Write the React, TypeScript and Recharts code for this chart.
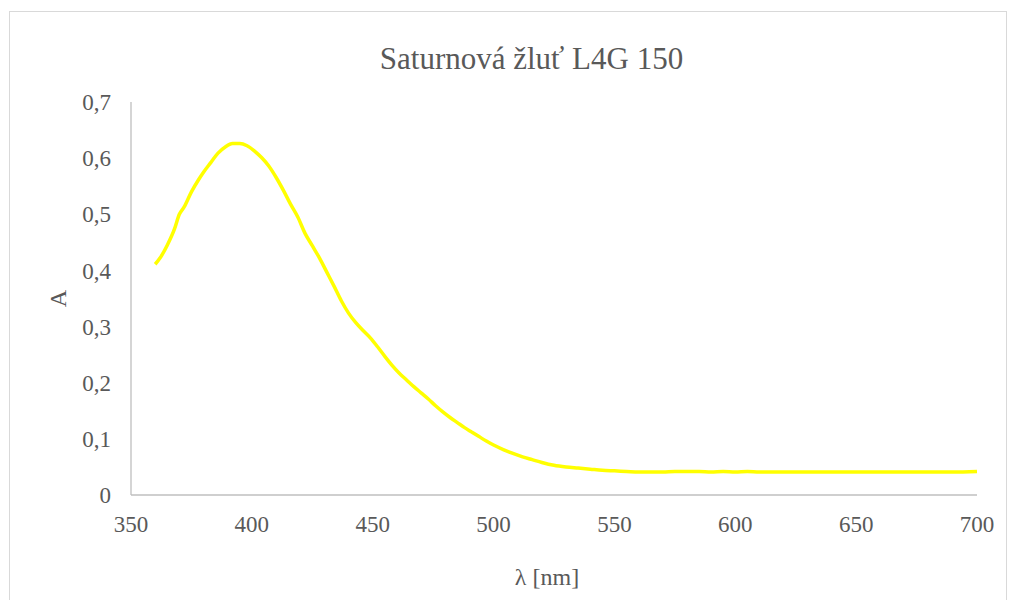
import React from "react";
import { LineChart, Line, XAxis, YAxis } from "recharts";

// wavelength [nm] and absorbance
const wavelengths = [
  360, 362, 365, 368, 370, 372, 375, 378, 380, 383, 386, 389, 392, 395, 398,
  401, 404, 407, 410, 413, 416, 419, 422, 425, 428, 431, 434, 437, 440, 443,
  446, 449, 452, 455, 458, 461, 464, 467, 470, 473, 476, 479, 482, 485, 488,
  491, 494, 497, 500, 504, 508, 512, 516, 520, 525, 530, 535, 540, 545, 550,
  555, 560, 565, 570, 575, 580, 585, 590, 595, 600, 605, 610, 620, 630, 640,
  650, 660, 670, 680, 690, 700,
];
const absorbance = [
  0.411, 0.422, 0.445, 0.474, 0.5, 0.513, 0.54, 0.562, 0.575, 0.592, 0.609,
  0.62, 0.626, 0.626, 0.622, 0.613, 0.601, 0.586, 0.566, 0.543, 0.518, 0.495,
  0.466, 0.444, 0.422, 0.397, 0.372, 0.346, 0.324, 0.307, 0.293, 0.28, 0.264,
  0.247, 0.231, 0.217, 0.205, 0.193, 0.182, 0.171, 0.159, 0.148, 0.138, 0.129,
  0.12, 0.112, 0.104, 0.096, 0.089, 0.081, 0.074, 0.068, 0.063, 0.058, 0.053,
  0.05, 0.048, 0.046, 0.044, 0.043, 0.042, 0.041, 0.041, 0.041, 0.042, 0.042,
  0.042, 0.041, 0.042, 0.041, 0.042, 0.041, 0.041, 0.041, 0.041, 0.041, 0.041,
  0.041, 0.041, 0.041, 0.042,
];
const xTicks = [350, 400, 450, 500, 550, 600, 650, 700];
const yTicks = [0, 0.1, 0.2, 0.3, 0.4, 0.5, 0.6, 0.7];

const data = wavelengths.map((w, i) => ({ w, a: absorbance[i] }));

const FONT = "'Liberation Serif', 'Times New Roman', serif";
const GREY = "#595959";

const fmtY = (v: number) => (v === 0 ? "0" : v.toFixed(1).replace(".", ","));

const App: React.FC = () => {
  return (
    <div
      style={{
        position: "absolute",
        left: 9,
        top: 11,
        width: 998,
        height: 600,
        border: "1px solid #d9d9d9",
        boxSizing: "border-box",
        background: "#fff",
        fontFamily: FONT,
      }}
    >
      {/* title */}
      <div
        style={{
          position: "absolute",
          left: 521.5,
          top: 31,
          transform: "translateX(-50%)",
          whiteSpace: "nowrap",
          fontSize: 31,
          lineHeight: "31px",
          color: GREY,
        }}
      >
        Saturnová žluť L4G 150
      </div>

      <LineChart
        width={996}
        height={586}
        data={data}
        margin={{ top: 90, right: 29, left: 61, bottom: 63 }}
      >
        <XAxis
          dataKey="w"
          type="number"
          domain={[350, 700]}
          ticks={xTicks}
          interval={0}
          height={40}
          tickLine={false}
          tickSize={0}
          tickMargin={21}
          axisLine={{ stroke: "#bfbfbf", strokeWidth: 1.3 }}
          tick={{ fill: GREY, fontSize: 23, fontFamily: FONT }}
          label={{
            value: "λ [nm]",
            position: "bottom",
            offset: 33,
            dx: -7,
            fill: GREY,
            fontSize: 24,
            fontFamily: FONT,
          }}
        />
        <YAxis
          type="number"
          domain={[0, 0.7]}
          ticks={yTicks}
          interval={0}
          width={60}
          tickLine={false}
          tickSize={0}
          tickMargin={20}
          tickFormatter={fmtY}
          axisLine={{ stroke: "#bfbfbf", strokeWidth: 1.3 }}
          tick={{ fill: GREY, fontSize: 23, fontFamily: FONT }}
          label={{
            value: "A",
            angle: -90,
            position: "center",
            dx: -44,
            fill: GREY,
            fontSize: 24,
            fontFamily: FONT,
          }}
        />
        <Line
          type="monotone"
          dataKey="a"
          stroke="#ffff00"
          strokeWidth={3.5}
          dot={false}
          activeDot={false}
          isAnimationActive={false}
        />
      </LineChart>
    </div>
  );
};

export default App;
